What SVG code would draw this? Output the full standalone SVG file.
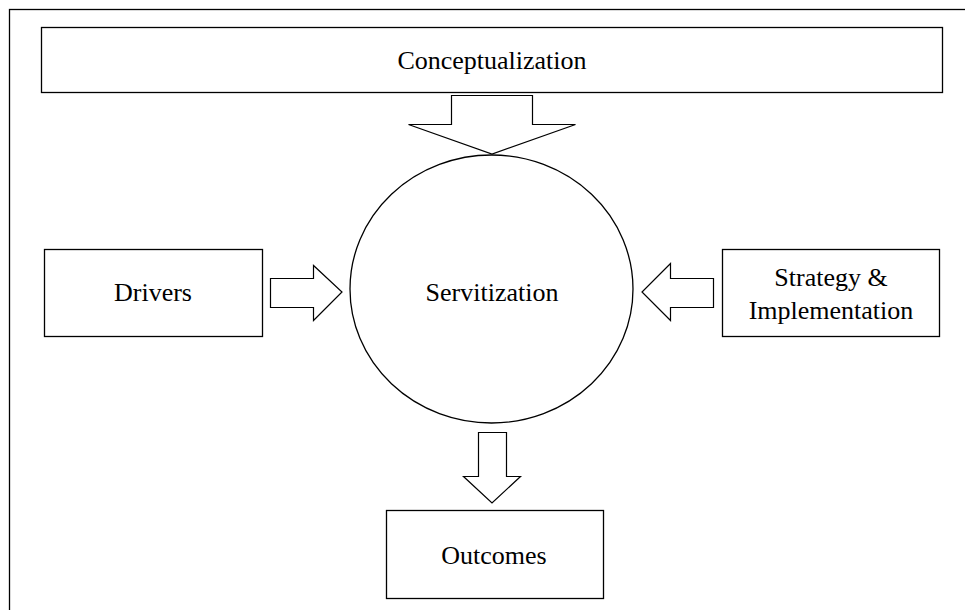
<svg xmlns="http://www.w3.org/2000/svg" width="965" height="610" viewBox="0 0 965 610">
  <style>
    .box { fill: #fff; stroke: #000; stroke-width: 1.3; }
    .arrow { fill: #fff; stroke: #000; stroke-width: 1.2; stroke-linejoin: miter; }
    .label { font-family: "Liberation Serif", "Times New Roman", serif; font-size: 26px; fill: #000; text-anchor: middle; dominant-baseline: central; }
  </style>
  <rect width="965" height="610" fill="#fff"/>
  <!-- outer frame -->
  <rect x="9.5" y="9.5" width="980" height="640" fill="none" stroke="#000" stroke-width="1.3"/>

  <g id="conceptualization">
    <rect class="box" x="41.5" y="27.5" width="901" height="65"/>
    <text class="label" x="492" y="60">Conceptualization</text>
  </g>

  <g id="servitization">
    <ellipse class="box" cx="491.5" cy="289" rx="141.5" ry="134"/>
    <text class="label" x="492" y="292">Servitization</text>
  </g>

  <g id="drivers">
    <rect class="box" x="44.5" y="249.5" width="218" height="87"/>
    <text class="label" x="153" y="292">Drivers</text>
  </g>

  <g id="strategy">
    <rect class="box" x="722.5" y="249.5" width="217" height="87"/>
    <text class="label" x="831" y="277">Strategy &amp;</text>
    <text class="label" x="831" y="310">Implementation</text>
  </g>

  <g id="outcomes">
    <rect class="box" x="386.5" y="510.5" width="217" height="88"/>
    <text class="label" x="494" y="555">Outcomes</text>
  </g>

  <g id="connectors">
    <!-- Conceptualization -> Servitization -->
    <polygon class="arrow" points="451.5,95.5 532.5,95.5 532.5,124.5 575.5,124.5 492,154 408.5,124.5 451.5,124.5"/>
    <!-- Drivers -> Servitization -->
    <polygon class="arrow" points="270.5,278.5 313.5,278.5 313.5,265.5 342,292 313.5,320.5 313.5,307.5 270.5,307.5"/>
    <!-- Strategy & Implementation -> Servitization -->
    <polygon class="arrow" points="713.5,278.5 670.5,278.5 670.5,263.5 642,292 670.5,320.5 670.5,307.5 713.5,307.5"/>
    <!-- Servitization -> Outcomes -->
    <polygon class="arrow" points="478.5,432.5 506.5,432.5 506.5,476.5 520.5,476.5 492,503 463.5,476.5 478.5,476.5"/>
  </g>
</svg>
